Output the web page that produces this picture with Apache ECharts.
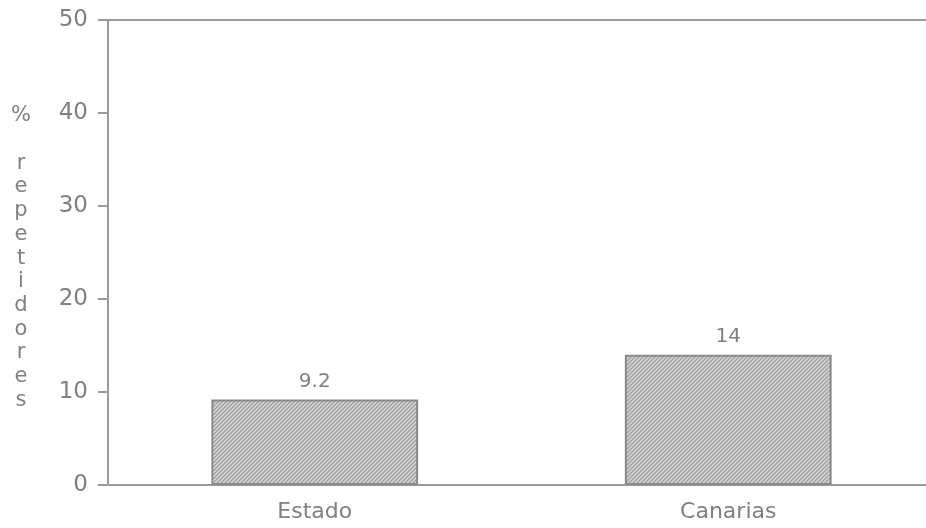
<!DOCTYPE html>
<html>
<head>
<meta charset="utf-8">
<script src="https://cdn.jsdelivr.net/npm/echarts@6/dist/echarts.min.js"></script>
<style>
html,body{margin:0;padding:0;background:#fff;}
#chart{width:926px;height:528px;}
</style>
</head>
<body>
<div id="chart"></div>
<script>
var categories = ['Estado', 'Canarias'];
var values = [9.2, 14];
var yTicks = [0, 10, 20, 30, 40, 50];
var yAxisTitle = ['%', '', 'r', 'e', 'p', 'e', 't', 'i', 'd', 'o', 'r', 'e', 's'];

function makeHatch() {
  var c = document.createElement('canvas');
  c.width = 4; c.height = 4;
  var g = c.getContext('2d');
  g.fillStyle = '#d4d4d4';
  g.fillRect(0, 0, 4, 4);
  g.strokeStyle = '#959595';
  g.lineWidth = 1.1;
  g.beginPath();
  g.moveTo(-1, 5); g.lineTo(5, -1);
  g.moveTo(-1, 1); g.lineTo(1, -1);
  g.moveTo(3, 5); g.lineTo(5, 3);
  g.stroke();
  return c;
}

var txt = '#808080';
var lineC = '#9a9a9a';
var font = 'DejaVu Sans';
var chart = echarts.init(document.getElementById('chart'));
chart.setOption({
  animation: false,
  backgroundColor: '#fff',
  grid: {left: 108, top: 20, width: 827, height: 465, show: false, outerBoundsMode: 'none', containLabel: false},
  xAxis: [{
    type: 'category', data: categories,
    axisLine: {lineStyle: {color: lineC, width: 2}},
    axisTick: {alignWithLabel: true, length: 8, lineStyle: {color: lineC, width: 2}},
    axisLabel: {color: txt, fontFamily: font, fontSize: 22, margin: 16}
  }, {
    type: 'category', data: categories, position: 'top',
    axisLine: {show: true, lineStyle: {color: lineC, width: 2}},
    axisTick: {show: false}, axisLabel: {show: false}
  }],
  yAxis: {
    type: 'value', min: yTicks[0], max: yTicks[yTicks.length - 1], interval: 10,
    axisLine: {show: true, lineStyle: {color: lineC, width: 2}},
    axisTick: {show: true, length: 10, lineStyle: {color: lineC, width: 2}},
    splitLine: {show: false},
    axisLabel: {color: txt, fontFamily: font, fontSize: 23, margin: 20}
  },
  graphic: [{
    type: 'text', x: 21, y: 104,
    style: {text: yAxisTitle.join('\n'), fill: txt, font: '21px "DejaVu Sans"', lineHeight: 23.7, align: 'center'}
  }],
  series: [{
    type: 'bar', data: values, barWidth: '50%',
    itemStyle: {color: {image: makeHatch(), repeat: 'repeat'}, borderColor: '#8a8a8a', borderWidth: 2},
    label: {show: true, position: 'top', distance: 8, color: txt, fontFamily: font, fontSize: 20}
  }]
});
</script>
</body>
</html>
